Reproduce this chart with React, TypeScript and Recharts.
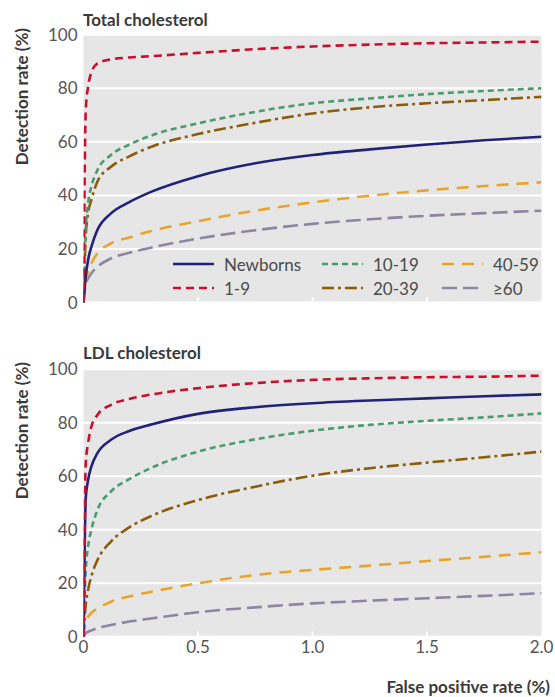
import React from "react";
import { LineChart, Line, XAxis, YAxis, CartesianGrid, ReferenceLine } from "recharts";

// false positive rate (%) sample points
const fpr = [0, 0.01, 0.02, 0.035, 0.06, 0.12, 0.2, 0.3, 0.5, 0.75, 1.0, 1.25, 1.5, 1.75, 2.0];

// Total cholesterol, detection rate (%)
const totNewborns = [0, 10, 15.9, 21, 27, 33.3, 37.5, 41.5, 47.2, 52.0, 55.1, 57.2, 59.0, 60.6, 61.9];
const tot1to9 = [0, 72, 80.6, 86, 89.2, 90.8, 91.5, 92, 93.2, 94.6, 95.6, 96.3, 96.8, 97.1, 97.4];
const tot10to19 = [0, 28, 37, 43.5, 49.3, 55.1, 59, 62.5, 66.9, 71.2, 74.4, 76.2, 77.8, 79.0, 80.0];
const tot20to39 = [0, 25, 33.3, 38.5, 45, 50.7, 54.6, 58.3, 62.9, 67.1, 70.6, 72.9, 74.4, 75.6, 76.8];
const tot40to59 = [0, 8.5, 11.5, 14.8, 18.3, 22.1, 24.3, 26.8, 30.4, 34.3, 37.4, 39.9, 41.9, 43.5, 44.9];
const tot60plus = [0, 7, 9, 11, 13.3, 16.5, 18.6, 20.6, 23.9, 27.0, 29.4, 31.1, 32.4, 33.4, 34.3];

// LDL cholesterol, detection rate (%)
const ldlNewborns = [0, 52, 58.6, 63.8, 68.5, 73.6, 76.9, 79.4, 83.3, 85.8, 87.3, 88.3, 89.1, 89.9, 90.6];
const ldl1to9 = [0, 65, 72.3, 78.7, 82.8, 86.7, 88.9, 90.6, 92.9, 94.8, 96.0, 96.6, 97.0, 97.2, 97.6];
const ldl10to19 = [0, 25, 33.7, 40.2, 47.2, 54.3, 58.9, 63.3, 69.2, 73.8, 77.0, 79.2, 80.7, 82.0, 83.5];
const ldl20to39 = [0, 12, 17.5, 22.8, 28.5, 35.6, 40.9, 45.3, 51.1, 56.1, 60.2, 63.0, 65.1, 67.1, 69.2];
const ldl40to59 = [0, 6.5, 7.5, 9, 10.5, 13.1, 15.1, 16.9, 20.0, 23.1, 25.0, 26.6, 28.3, 29.9, 31.6];
const ldl60plus = [0, 1.4, 1.9, 2.4, 3.2, 4.4, 5.7, 6.9, 9.2, 11.0, 12.5, 13.5, 14.4, 15.3, 16.3];

const xTicks = [0, 0.5, 1, 1.5, 2];
const yTicks = [0, 20, 40, 60, 80, 100];

const FONT = "Lato, 'Open Sans', sans-serif";

const series = [
  { key: "g60", name: "≥60", color: "#8f84a2", dash: "15 6" },
  { key: "g40", name: "40-59", color: "#e9a52b", dash: "12 8" },
  { key: "g20", name: "20-39", color: "#8a5d0b", dash: "12 4 3 4" },
  { key: "g10", name: "10-19", color: "#4b9b70", dash: "6 4" },
  { key: "newborns", name: "Newborns", color: "#222279", dash: undefined },
  { key: "g1", name: "1-9", color: "#c8102e", dash: "8 5" },
];

const buildRows = (nb: number[], a: number[], b: number[], c: number[], d: number[], e: number[]) =>
  fpr.map((x, i) => ({ fpr: x, newborns: nb[i], g1: a[i], g10: b[i], g20: c[i], g40: d[i], g60: e[i] }));

const totalRows = buildRows(totNewborns, tot1to9, tot10to19, tot20to39, tot40to59, tot60plus);
const ldlRows = buildRows(ldlNewborns, ldl1to9, ldl10to19, ldl20to39, ldl40to59, ldl60plus);

function Panel({ rows, height, marginTop, marginBottom, showXLabels }: any) {
  return (
    <LineChart
      width={555}
      height={height}
      data={rows}
      margin={{ top: marginTop, right: 13.5, bottom: marginBottom, left: 0 }}
    >
      <CartesianGrid vertical={false} fill="#e6e6e6" stroke="#ffffff" strokeWidth={2} fillOpacity={1} />
      <XAxis
        dataKey="fpr"
        type="number"
        domain={[0, 2]}
        ticks={xTicks}
        allowDataOverflow
        axisLine={false}
        tickLine={false}
        tickSize={2}
        height={showXLabels ? 30 : 0}
        tick={showXLabels ? { fill: "#555", fontSize: 17, fontFamily: FONT } : false}
        tickFormatter={(v: number) => (v === 0 ? "0" : v.toFixed(1))}
        interval={0}
      />
      <YAxis
        type="number"
        domain={[0, 100]}
        ticks={yTicks}
        width={83.5}
        axisLine={false}
        tickLine={false}
        tickSize={4}
        tickMargin={2}
        tick={{ fill: "#555", fontSize: 17, fontFamily: FONT }}
        interval={0}
      />
      {[0.5, 1, 1.5].map((t) => (
        <ReferenceLine
          key={t}
          segment={[{ x: t, y: 0 }, { x: t, y: 2 }]}
          stroke="#ffffff"
          strokeWidth={2}
        />
      ))}
      {series.map((s) => (
        <Line
          key={s.key}
          type="monotone"
          dataKey={s.key}
          stroke={s.color}
          strokeWidth={2.6}
          strokeDasharray={s.dash}
          dot={false}
          activeDot={false}
          isAnimationActive={false}
        />
      ))}
    </LineChart>
  );
}

const legendItems = [
  { key: "newborns", left: 173, top: 264 },
  { key: "g1", left: 173, top: 288 },
  { key: "g10", left: 322, top: 264 },
  { key: "g20", left: 322, top: 288 },
  { key: "g40", left: 442, top: 264 },
  { key: "g60", left: 442, top: 288 },
];

function LegendBox() {
  return (
    <>
      {legendItems.map((it) => {
        const s = series.find((x) => x.key === it.key)!;
        return (
          <div
            key={it.key}
            style={{
              position: "absolute",
              left: it.left,
              top: it.top - 11,
              height: 22,
              display: "flex",
              alignItems: "center",
              fontFamily: FONT,
              fontSize: 17,
              color: "#4a4a4a",
              whiteSpace: "nowrap",
            }}
          >
            <svg width={42} height={10} style={{ display: "block" }}>
              <line x1={0} y1={5} x2={41} y2={5} stroke={s.color} strokeWidth={2.6} strokeDasharray={s.dash} />
            </svg>
            <span style={{ marginLeft: 9 }}>{s.name}</span>
          </div>
        );
      })}
    </>
  );
}

export default function App() {
  const titleStyle = { fontFamily: FONT, fontWeight: 700, fontSize: 17, fill: "#3a3a3a" } as const;
  return (
    <div style={{ position: "absolute", left: 0, top: 0, width: 555, height: 697, background: "#fff" }}>
      <div style={{ position: "absolute", left: 0, top: 0 }}>
        <Panel rows={totalRows} height={330} marginTop={34.7} marginBottom={27.4} showXLabels={false} />
      </div>
      <div style={{ position: "absolute", left: 0, top: 330 }}>
        <Panel rows={ldlRows} height={367} marginTop={39.2} marginBottom={30.2} showXLabels={true} />
      </div>
      <LegendBox />
      <svg width={555} height={697} style={{ position: "absolute", left: 0, top: 0, pointerEvents: "none" }}>
        <text x={83} y={26} style={titleStyle}>Total cholesterol</text>
        <text x={83} y={359} style={titleStyle}>LDL cholesterol</text>
        <text x={28} y={28} textAnchor="end" transform="rotate(-90 28 28)" style={titleStyle}>
          Detection rate (%)
        </text>
        <text x={28} y={362} textAnchor="end" transform="rotate(-90 28 362)" style={titleStyle}>
          Detection rate (%)
        </text>
        <text x={550} y={693} textAnchor="end" style={titleStyle}>False positive rate (%)</text>
      </svg>
    </div>
  );
}
